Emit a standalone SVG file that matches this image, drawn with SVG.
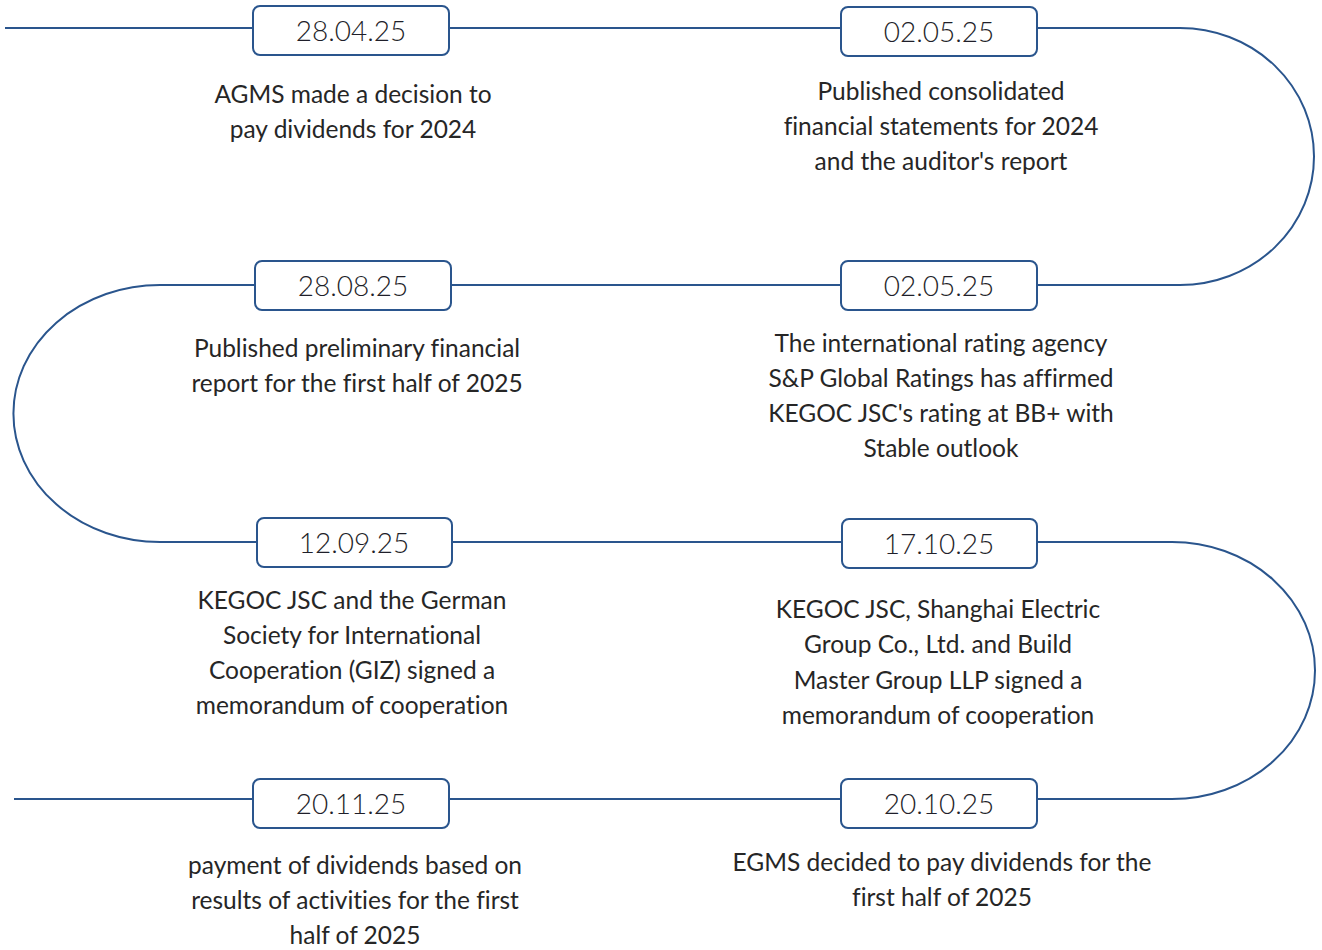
<svg xmlns="http://www.w3.org/2000/svg" width="1322" height="950" viewBox="0 0 1322 950">
<style>
.ln{fill:none;stroke:#2a558d;stroke-width:2}
.bx{fill:#fff;stroke:#2a558d;stroke-width:2}
.dt{font-family:Lato,"Liberation Sans",sans-serif;font-weight:300;font-size:28px;fill:#1f1f2a;text-anchor:middle}
.tx{font-family:Lato,"Liberation Sans",sans-serif;font-size:24.5px;fill:#262626;text-anchor:middle;font-variant-ligatures:none}
</style>
<rect width="1322" height="950" fill="#fff"/>
<g id="connectors">
<path class="ln" d="M5,28 H1180 A134,128.5 0 0 1 1180,285 H160 A146,128 0 0 0 160,542 H1172 A143,128.5 0 0 1 1172,799 H14"/>
</g>
<g id="n1"><rect class="bx" x="253" y="6" width="196" height="49" rx="7"/><text class="dt" x="351" y="41">28.04.25</text>
<text class="tx" x="353" y="103">AGMS made a decision to</text><text class="tx" x="353" y="138">pay dividends for 2024</text></g>
<g id="n2"><rect class="bx" x="841" y="7" width="196" height="49" rx="7"/><text class="dt" x="939" y="42">02.05.25</text>
<text class="tx" x="941" y="100">Published consolidated</text><text class="tx" x="941" y="135">financial statements for 2024</text><text class="tx" x="941" y="170">and the auditor's report</text></g>
<g id="n3"><rect class="bx" x="841" y="261" width="196" height="49" rx="7"/><text class="dt" x="939" y="296">02.05.25</text>
<text class="tx" x="941" y="352">The international rating agency</text><text class="tx" x="941" y="387">S&amp;P Global Ratings has affirmed</text><text class="tx" x="941" y="422">KEGOC JSC's rating at BB+ with</text><text class="tx" x="941" y="457">Stable outlook</text></g>
<g id="n4"><rect class="bx" x="255" y="261" width="196" height="49" rx="7"/><text class="dt" x="353" y="296">28.08.25</text>
<text class="tx" x="357" y="357">Published preliminary financial</text><text class="tx" x="357" y="392">report for the first half of 2025</text></g>
<g id="n5"><rect class="bx" x="257" y="518" width="195" height="49" rx="7"/><text class="dt" x="354" y="553">12.09.25</text>
<text class="tx" x="352" y="609">KEGOC JSC and the German</text><text class="tx" x="352" y="644">Society for International</text><text class="tx" x="352" y="679">Cooperation (GIZ) signed a</text><text class="tx" x="352" y="714">memorandum of cooperation</text></g>
<g id="n6"><rect class="bx" x="842" y="519" width="195" height="49" rx="7"/><text class="dt" x="939" y="554">17.10.25</text>
<text class="tx" x="938" y="618">KEGOC JSC, Shanghai Electric</text><text class="tx" x="938" y="653">Group Co., Ltd. and Build</text><text class="tx" x="938" y="689">Master Group LLP signed a</text><text class="tx" x="938" y="724">memorandum of cooperation</text></g>
<g id="n7"><rect class="bx" x="841" y="779" width="196" height="49" rx="7"/><text class="dt" x="939" y="814">20.10.25</text>
<text class="tx" x="942" y="871">EGMS decided to pay dividends for the</text><text class="tx" x="942" y="906">first half of 2025</text></g>
<g id="n8"><rect class="bx" x="253" y="779" width="196" height="49" rx="7"/><text class="dt" x="351" y="814">20.11.25</text>
<text class="tx" x="355" y="874">payment of dividends based on</text><text class="tx" x="355" y="909">results of activities for the first</text><text class="tx" x="355" y="944">half of 2025</text></g>
</svg>
